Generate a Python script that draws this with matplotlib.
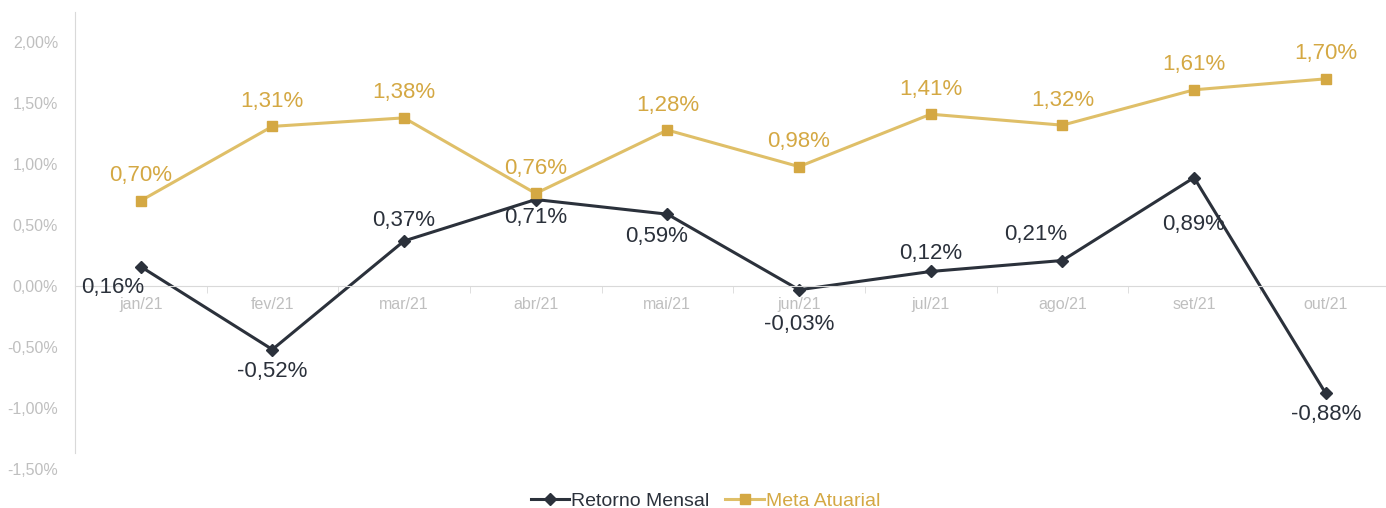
import matplotlib.pyplot as plt
import numpy as np
from matplotlib.ticker import FuncFormatter

plt.rcParams['font.family'] = ['Liberation Sans', 'DejaVu Sans']

# dados
meses = ['jan/21', 'fev/21', 'mar/21', 'abr/21', 'mai/21', 'jun/21', 'jul/21', 'ago/21', 'set/21', 'out/21']
retorno = [0.16, -0.52, 0.37, 0.71, 0.59, -0.03, 0.12, 0.21, 0.89, -0.88]
meta = [0.70, 1.31, 1.38, 0.76, 1.28, 0.98, 1.41, 1.32, 1.61, 1.70]
# posicao dos rotulos do retorno (offset em pontos)
pos_ret = [(-20, -15), (0, -16), (0, 15), (0, -13), (-8, -16), (0, -25), (0, 13), (-19, 19), (0, -34), (0, -15)]

cor_ret = '#2b313b'
cor_meta = '#dfbf68'
cor_meta_txt = '#d4a843'
cinza = '#bfbfbf'

fig = plt.figure(figsize=(13.86, 5.08), dpi=100)
ax = fig.add_axes([0.054, 0.0768, 0.95, 0.9]);
x = np.arange(len(meses))

ax.plot(x, retorno, color=cor_ret, lw=2.2, marker='D', ms=6, mfc=cor_ret, mec=cor_ret, label='Retorno Mensal')
ax.plot(x, meta, color=cor_meta, lw=2.2, marker='s', ms=7, mfc='#d4a843', mec='#d4a843', label='Meta Atuarial')

for i in range(len(x)):
    ax.annotate(f'{meta[i]:.2f}%'.replace('.', ','), (x[i], meta[i]), xytext=(0, 18),
                textcoords='offset points', ha='center', va='center', fontsize=16, color=cor_meta_txt)
    dx, dy = pos_ret[i]
    ax.annotate(f'{retorno[i]:.2f}%'.replace('.', ','), (x[i], retorno[i]), xytext=(dx, dy),
                textcoords='offset points', ha='center', va='center', fontsize=16, color=cor_ret)

ax.set_xlim(-0.5, 9.47)
ax.set_ylim(-1.5, 2.25)
ax.set_yticks(np.arange(-1.5, 2.01, 0.5))
ax.yaxis.set_major_formatter(FuncFormatter(lambda v, p: f'{v:.2f}%'.replace('.', ',')))
ax.set_xticks(x)
ax.set_xticklabels(meses)
ax.set_xticks(np.arange(-0.5, 9.6, 1), minor=True)
ax.tick_params(axis='x', which='major', length=0, pad=8, labelsize=11.5, labelcolor=cinza)
ax.tick_params(axis='x', which='minor', length=5, color='#d9d9d9', direction='out')
ax.tick_params(axis='y', length=0, pad=12, labelsize=11.5, labelcolor=cinza)

for s in ['top', 'right']:
    ax.spines[s].set_visible(False)
ax.spines['bottom'].set_position(('data', 0))
ax.spines['bottom'].set_color('#d9d9d9')
ax.spines['left'].set_color('#d9d9d9')
ax.spines['left'].set_bounds(-1.37, 2.25)
ax.set_zorder(1)

leg = fig.legend(loc='center', bbox_to_anchor=(0.509, 0.014), ncol=2, frameon=False,
                 fontsize=14, handlelength=2.0, handletextpad=0.1, columnspacing=0.8)
leg.get_texts()[0].set_color(cor_ret)
leg.get_texts()[1].set_color(cor_meta_txt)

plt.savefig('out.png', dpi=100)
